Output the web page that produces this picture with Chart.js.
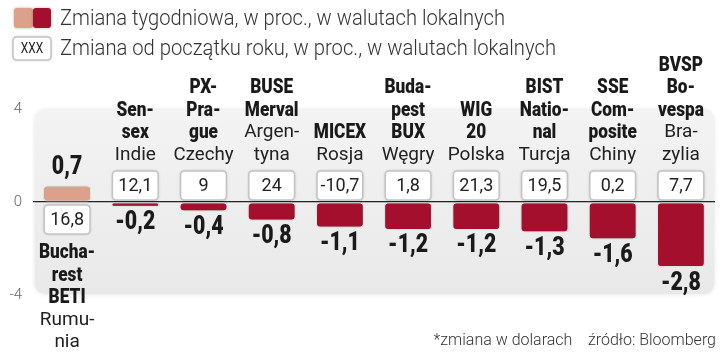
<!DOCTYPE html>
<html>
<head>
<meta charset="utf-8">
<script src="https://cdn.jsdelivr.net/npm/chart.js@4/dist/chart.umd.min.js"></script>
<style>
html,body{margin:0;padding:0;background:#fff;}
#wrap{width:720px;height:354px;position:relative;}
</style>
</head>
<body>
<div id="wrap"><canvas id="c" width="720" height="354"></canvas></div>
<script>
const categories = ["Bucharest BETI","Sensex","PX-Prague","BUSE Merval","MICEX","Budapest BUX","WIG 20","BIST National","SSE Composite","BVSP Bovespa"];
const indexLines = [["Bucha-","rest","BETI"],["Sen-","sex"],["PX-","Pra-","gue"],["BUSE","Merval"],["MICEX"],["Buda-","pest","BUX"],["WIG","20"],["BIST","Natio-","nal"],["SSE","Com-","posite"],["BVSP","Bo-","vespa"]];
const countryLines = [["Rumu-","nia"],["Indie"],["Czechy"],["Argen-","tyna"],["Rosja"],["Węgry"],["Polska"],["Turcja"],["Chiny"],["Bra-","zylia"]];
const weeklyChange = [0.7,-0.2,-0.4,-0.8,-1.1,-1.2,-1.2,-1.3,-1.6,-2.8];
const ytdChange = [16.8,12.1,9,24,-10.7,1.8,21.3,19.5,0.2,7.7];
const yTickValues = [-4,0,4];
const legendWeekly = "Zmiana tygodniowa, w proc., w walutach lokalnych";
const legendYtd = "Zmiana od początku roku, w proc., w walutach lokalnych";
const footnote = "*zmiana w dolarach    źródło: Bloomberg";

const POS = '#dda08a', NEG = '#a30f2c';
const fmt = v => String(v).replace('.', ',');
const REG = "Roboto,'Open Sans',sans-serif";

function rr(ctx,x,y,w,h,r){
  ctx.beginPath();
  ctx.moveTo(x+r,y);ctx.lineTo(x+w-r,y);ctx.quadraticCurveTo(x+w,y,x+w,y+r);
  ctx.lineTo(x+w,y+h-r);ctx.quadraticCurveTo(x+w,y+h,x+w-r,y+h);
  ctx.lineTo(x+r,y+h);ctx.quadraticCurveTo(x,y+h,x,y+h-r);
  ctx.lineTo(x,y+r);ctx.quadraticCurveTo(x,y,x+r,y);ctx.closePath();
}
function condText(ctx,t,x,y,font,sx){
  ctx.save();ctx.translate(x,y);ctx.scale(sx,1);ctx.font=font;ctx.fillText(t,0,0);ctx.restore();
}

const deco = {
  id:'deco',
  beforeDraw(chart){
    const ctx = chart.ctx, a = chart.chartArea;
    ctx.save();
    ctx.fillStyle='#fff';ctx.fillRect(0,0,chart.width,chart.height);
    const g = ctx.createLinearGradient(0,a.top,0,a.bottom);
    g.addColorStop(0,'#f3f3f3');g.addColorStop(1,'#e9e9e9');
    ctx.shadowColor='rgba(0,0,0,0.12)';ctx.shadowBlur=4;
    rr(ctx,a.left+2,a.top+1,a.right-a.left-3,a.bottom-a.top-2,12);
    ctx.fillStyle=g;ctx.fill();
    ctx.restore();
  },
  beforeDatasetsDraw(chart){
    chart.ctx.save();
    chart.ctx.shadowColor='rgba(0,0,0,0.35)';
    chart.ctx.shadowBlur=3;
  },
  afterDatasetsDraw(chart){
    chart.ctx.restore();
    const ctx = chart.ctx, y = chart.scales.y;
    const zero = y.getPixelForValue(0);
    const meta = chart.getDatasetMeta(0);
    ctx.save();
    meta.data.forEach((bar,i)=>{
      const x = bar.x, w = bar.width, v = weeklyChange[i];
      const end = y.getPixelForValue(v);
      const bh = 29;
      const by = v >= 0 ? zero + 3 : zero - 31;
      ctx.save();
      ctx.shadowColor='rgba(0,0,0,0.25)';ctx.shadowBlur=3;
      rr(ctx,x-w/2+1,by,w-2,bh,4);
      ctx.fillStyle='#fff';ctx.fill();
      ctx.restore();
      rr(ctx,x-w/2+1,by,w-2,bh,4);
      ctx.strokeStyle='#c4c4c4';ctx.lineWidth=1.5;ctx.stroke();
      ctx.fillStyle='#222';ctx.textAlign='center';ctx.textBaseline='middle';
      ctx.font="400 18px "+REG;
      ctx.fillText(fmt(ytdChange[i]),x,by+bh/2+1);
      ctx.fillStyle='#1a1a1a';
      const vf = "900 26px Roboto";
      if (v>=0) condText(ctx,fmt(v),x,end-18,vf,0.82);
      else condText(ctx,fmt(v),x,end+16,vf,0.82);
      const lines = indexLines[i].map(t=>[t,true]).concat(countryLines[i].map(t=>[t,false]));
      const lh = 22.3;
      lines.forEach(([t,b],k)=>{
        let cy;
        if (v>=0) cy = zero + 51 + k*lh;
        else cy = zero - 47 - (lines.length-1-k)*lh;
        if (b){ ctx.fillStyle='#1a1a1a'; condText(ctx,t,x,cy,"900 21px Roboto",0.82); }
        else { ctx.fillStyle='#222'; ctx.font="400 19px "+REG; ctx.fillText(t,x,cy,60); }
      });
    });
    // legend
    ctx.save();
    ctx.shadowColor='rgba(0,0,0,0.3)';ctx.shadowBlur=3;
    rr(ctx,14,8,19,20,3);ctx.fillStyle=POS;ctx.fill();
    rr(ctx,33,8,18,20,3);ctx.fillStyle=NEG;ctx.fill();
    rr(ctx,13,37,38,23,4);ctx.fillStyle='#fff';ctx.fill();
    ctx.restore();
    rr(ctx,13,37,38,23,4);ctx.strokeStyle='#c4c4c4';ctx.lineWidth=1.5;ctx.stroke();
    ctx.fillStyle='#222';ctx.textAlign='center';
    condText(ctx,'XXX',32,49,"400 14px Roboto",0.85);
    ctx.textAlign='left';ctx.fillStyle='#333';ctx.font="300 22px "+REG;
    ctx.fillText(legendWeekly,60,19,445);
    ctx.fillText(legendYtd,60,49,496);
    ctx.textAlign='right';ctx.font="300 16px "+REG;ctx.fillStyle='#333';
    ctx.fillText(footnote,716,341,284);
    ctx.restore();
  }
};

new Chart(document.getElementById('c'),{
  type:'bar',
  data:{
    labels:categories,
    datasets:[{
      data:weeklyChange,
      backgroundColor:weeklyChange.map(v=>v>=0?POS:NEG),
      borderColor:'#ffffff',
      borderWidth:1,
      borderSkipped:false,
      borderRadius:4,
      barPercentage:0.7,
      categoryPercentage:1
    }]
  },
  options:{
    responsive:false,
    animation:false,
    devicePixelRatio:1,
    layout:{padding:{top:109,bottom:59,left:0,right:5}},
    plugins:{legend:{display:false},tooltip:{enabled:false}},
    scales:{
      x:{display:false},
      y:{
        min:-4,max:4,
        afterFit(s){s.width=33;},
        afterBuildTicks(s){s.ticks=yTickValues.map(v=>({value:v}));},
        ticks:{padding:11,color:'#666',font:{family:'Roboto',size:15,weight:300},callback:v=>String(v)},
        grid:{drawTicks:false,color:c=>c.tick && c.tick.value===0?'#222':'rgba(0,0,0,0)',lineWidth:1.2},
        border:{display:false}
      }
    }
  },
  plugins:[deco]
});
</script>
</body>
</html>
